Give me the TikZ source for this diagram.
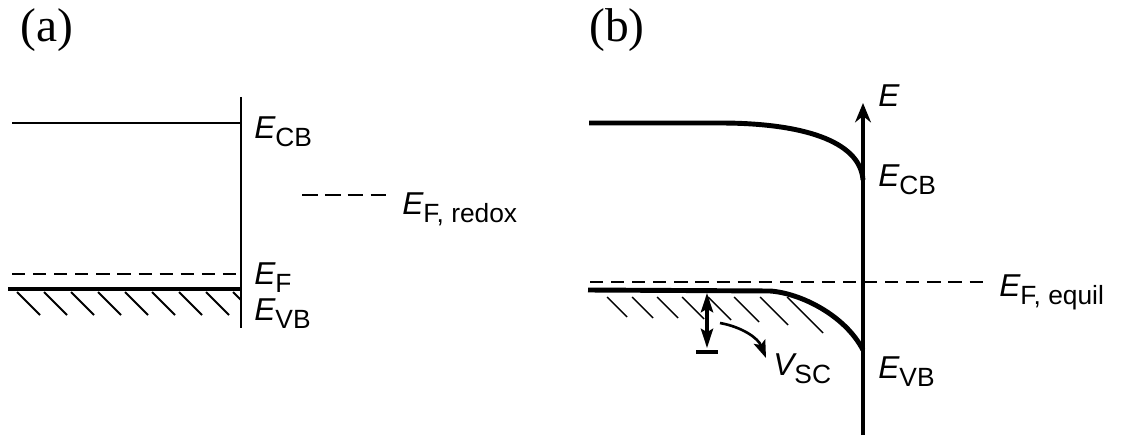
\documentclass[tikz,border=0pt]{standalone}
\usepackage{fontspec}
\setmainfont{Liberation Sans}
\newfontfamily\tnrfont{Liberation Serif}
\usetikzlibrary{arrows.meta}
\newcommand\Elab[1]{{\fontsize{18}{18}\selectfont\itshape E}\raisebox{-5pt}{\fontsize{15}{15}\selectfont #1}}
\newcommand\Vlab[1]{{\fontsize{18}{18}\selectfont\itshape V}\raisebox{-5pt}{\fontsize{15}{15}\selectfont #1}}
\begin{document}
\begin{tikzpicture}[x=0.02cm,y=-0.02cm,
  level/.style={line width=1.6pt},
  vband/.style={line width=2.3pt},
  bandb/.style={line width=2.8pt},
  axisline/.style={line width=2pt},
  hatcha/.style={line width=1.1pt},
  hatchb/.style={line width=0.8pt},
  dashlevel/.style={line width=1.6pt, dash pattern=on 7.5pt off 4.5pt},
  dashredox/.style={line width=1.6pt, dash pattern=on 9pt off 4pt},
  lbl/.style={anchor=base west, inner sep=0pt},
  panel/.style={anchor=base west, inner sep=0pt, font=\tnrfont\fontsize{27}{27}\selectfont}]
\useasboundingbox (0,0) rectangle (1122,439);
% ---------- panel labels
\node[panel] (pa) at (20,42) {(a)};
\node[panel] (pb) at (589,42) {(b)};
% ---------- panel (a)
\coordinate (aTop) at (241,97);
\coordinate (aBot) at (241,328);
\draw[level] (aTop) -- (aBot);
\coordinate (cbL) at (12,123);
\coordinate (cbR) at (241,123);
\draw[level] (cbL) -- (cbR);
\coordinate (efL) at (12,274);
\coordinate (efR) at (241,274);
\draw[dashlevel] (efL) -- (efR);
\coordinate (vbL) at (8,289);
\coordinate (vbR) at (241,289);
\draw[vband] (vbL) -- (vbR);
\begin{scope}
  \clip (0,291) rectangle (240,330);
  \foreach \x in {17,44,71,98,125,152,179,206,233}
    \draw[hatcha] (\x,292) -- ++(23,23);
\end{scope}
\coordinate (rdxL) at (302,195);
\coordinate (rdxR) at (390,195);
\draw[dashredox] (rdxL) -- (rdxR);
\node[lbl] (aCB) at (254,138) {\Elab{CB}};
\node[lbl] (aRdx) at (402,214) {\Elab{F, redox}};
\node[lbl] (aF) at (254,284) {\Elab{F}};
\node[lbl] (aVB) at (254,320) {\Elab{VB}};
% ---------- panel (b)
\coordinate (axB) at (863,435);
\coordinate (axT) at (863,103);
\draw[axisline,-{Stealth[length=11pt,width=9pt]}] (axB) -- (axT);
\node[lbl] (bE) at (878,107) {{\fontsize{18}{18}\selectfont\itshape E}};
% conduction band
\coordinate (bcbL) at (589,123);
\coordinate (bcbM) at (720,123);
\coordinate (bcbR) at (863,180);
\draw[bandb] (bcbL) -- (bcbM) .. controls (800,123) and (860,140) .. (bcbR);
% Fermi level
\coordinate (befL) at (590,282);
\coordinate (befR) at (987,282);
\draw[dashlevel] (befL) -- (befR);
% valence band
\coordinate (bvbL) at (588,290);
\coordinate (bvbM) at (770,291);
\coordinate (bvbR) at (863,350);
\draw[bandb] (bvbL) -- (bvbM) .. controls (800,293) and (845,315) .. (bvbR);
% hatching
\foreach \x/\d in {607/20,632/21,657/21,682/22,708/23,734/25,760/28,787/36}
  \draw[hatchb] (\x,297) -- ++(\d,\d);
% band bending arrow
\coordinate (vsT) at (707,293);
\coordinate (vsB) at (707,348);
\draw[line width=1.8pt,{Stealth[length=11pt,width=7pt,inset=2pt]}-{Stealth[length=11pt,width=7pt,inset=2pt]}] (vsT) -- (vsB);
\coordinate (barL) at (696,352);
\coordinate (barR) at (718,352);
\draw[line width=2.4pt] (barL) -- (barR);
\coordinate (cvS) at (720,323);
\coordinate (cvE) at (766,358);
\draw[line width=1.5pt,-{Stealth[length=10pt,width=7pt,inset=2pt]}] (cvS) .. controls (742,327) and (758,338) .. (cvE);
\node[lbl] (bVSC) at (773,375) {\Vlab{SC}};
\node[lbl] (bCB) at (878,186) {\Elab{CB}};
\node[lbl] (bEF) at (999,296) {\Elab{F, equil}};
\node[lbl] (bVB) at (878,378) {\Elab{VB}};
\end{tikzpicture}
\end{document}
